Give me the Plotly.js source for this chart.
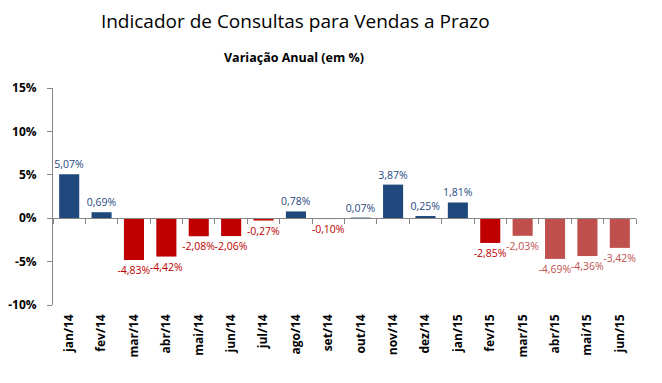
<!DOCTYPE html>
<html>
<head>
<meta charset="utf-8">
<script src="https://cdn.plot.ly/plotly-3.0.1.min.js"></script>
<style>html,body{margin:0;padding:0;background:#fff;}#chart{width:662px;height:383px;}</style>
</head>
<body>
<div id="chart"></div>
<script>
const categories = ["jan/14","fev/14","mar/14","abr/14","mai/14","jun/14","jul/14","ago/14","set/14","out/14","nov/14","dez/14","jan/15","fev/15","mar/15","abr/15","mai/15","jun/15"];
const values = [5.07, 0.69, -4.83, -4.42, -2.08, -2.06, -0.27, 0.78, -0.10, 0.07, 3.87, 0.25, 1.81, -2.85, -2.03, -4.69, -4.36, -3.42];
const yTickVals = [-10, -5, 0, 5, 10, 15];
const yTickText = ["-10%", "-5%", "0%", "5%", "10%", "15%"];

const BLUE = "#1F497D", RED = "#C00000", LIGHTRED = "#C0504D";
const colorFor = (v, i) => v >= 0 ? BLUE : (i >= 14 ? LIGHTRED : RED);
const colors = values.map(colorFor);
const labels = values.map(v => v.toFixed(2).replace('.', ',') + '%');

const data = [
  {
    type: 'bar', x: categories, y: values,
    marker: { color: colors },
    text: labels, textposition: 'outside', cliponaxis: false, constraintext: 'none',
    textfont: { family: 'Open Sans', size: 10.5, color: colors },
    hoverinfo: 'none'
  },
  { type: 'scatter', x: categories, y: values.map(() => null), xaxis: 'x2', hoverinfo: 'none', showlegend: false }
];

const layout = {
  width: 662, height: 383,
  margin: { l: 53, r: 26, t: 88, b: 78 },
  paper_bgcolor: '#fff', plot_bgcolor: '#fff',
  showlegend: false,
  bargap: 0.38,
  title: { text: 'Indicador de Consultas para Vendas a Prazo', xref: 'container', x: 0.446, xanchor: 'center', yref: 'container', y: 0.943, yanchor: 'middle', font: { family: 'Open Sans', size: 19, color: '#000' } },
  annotations: [
    { text: '<b>Variação Anual (em %)</b>', xref: 'paper', yref: 'paper', x: (294 - 53) / 583, y: 1 + (88 - 57) / 217, xanchor: 'center', yanchor: 'middle', showarrow: false, font: { family: 'Open Sans', size: 12.5, color: '#000' } }
  ],
  xaxis: {
    type: 'category', range: [-0.5, 17.5], showline: false, ticks: '', showgrid: false, zeroline: false,
    tickangle: -90, ticklabelstandoff: 6,
    tickfont: { family: 'Open Sans', size: 12, color: '#000', weight: 'bold' }
  },
  xaxis2: {
    type: 'category', overlaying: 'x', anchor: 'free', position: 0.4, range: [-0.5, 17.5],
    showline: true, linecolor: '#868686', linewidth: 1,
    ticks: 'outside', tickson: 'boundaries', ticklen: 5, tickcolor: '#868686',
    showticklabels: false, showgrid: false, zeroline: false
  },
  yaxis: {
    range: [-10, 15], tickvals: yTickVals, ticktext: yTickText,
    showline: true, linecolor: '#868686', linewidth: 1,
    ticks: 'outside', ticklen: 5, tickcolor: '#868686', ticklabelstandoff: 8,
    showgrid: false, zeroline: false,
    tickfont: { family: 'Open Sans', size: 12, color: '#000', weight: 'bold' }
  }
};

Plotly.newPlot('chart', data, layout, { staticPlot: true, displayModeBar: false });
</script>
</body>
</html>
